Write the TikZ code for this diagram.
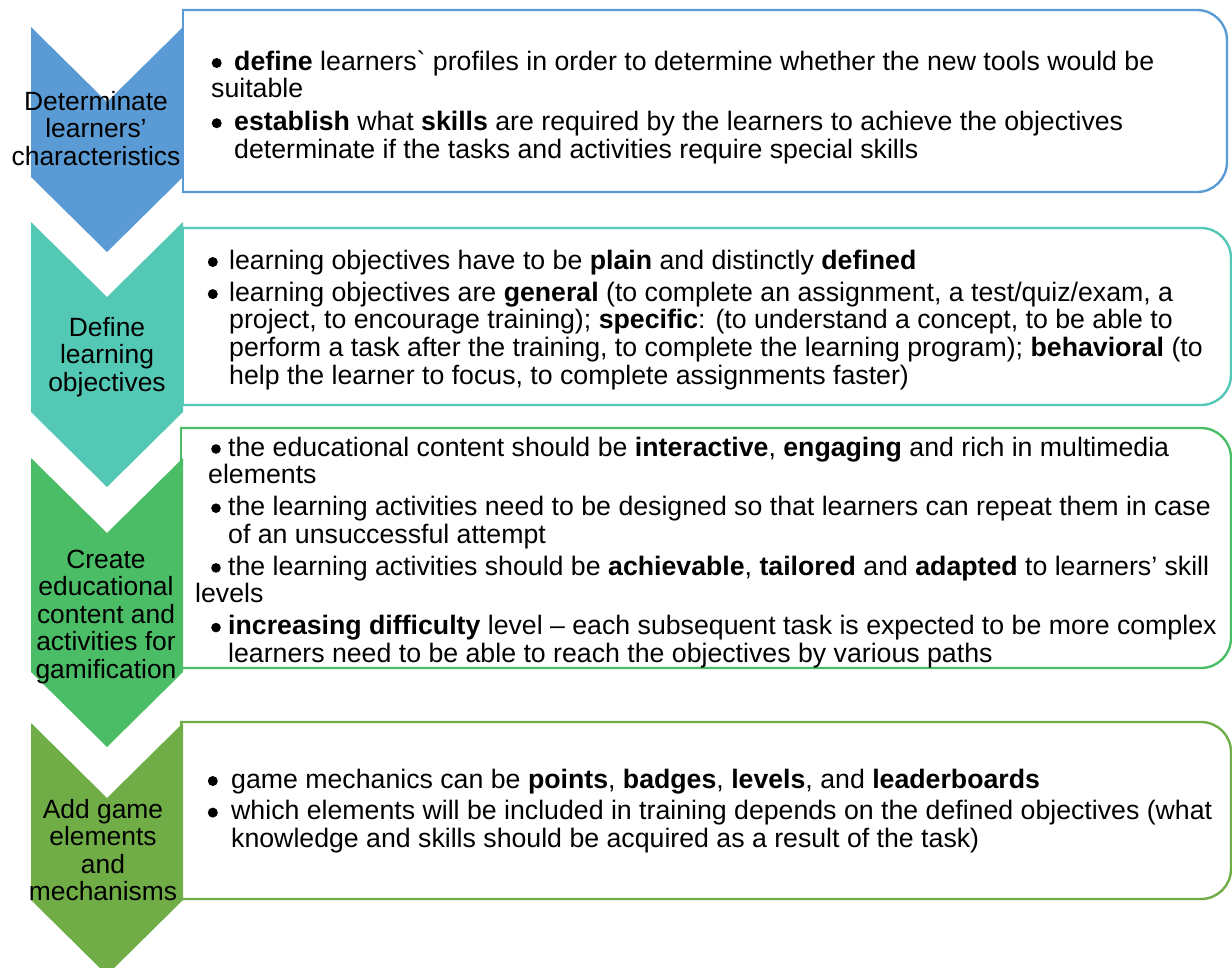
\documentclass[tikz,border=0pt]{standalone}
\usepackage{fontspec}
\setmainfont{Liberation Sans}[Ligatures=TeXOff]

\definecolor{stepA}{HTML}{5B9BD5}
\definecolor{stepB}{HTML}{52C8B5}
\definecolor{stepC}{HTML}{4BBD66}
\definecolor{stepD}{HTML}{70AD47}

% room for a bullet, and the matching hanging indent
\newcommand{\bul}[1][22pt]{\hspace*{#1}}
\newcommand{\ind}[1][22pt]{\hspace*{#1}}
\newcommand{\firstline}{\rule{0pt}{20pt}}

\begin{document}
\begin{tikzpicture}[x=1pt,y=-1pt,
  bodytext/.style={anchor=north west, inner sep=0pt, align=left,
    font=\fontsize{26.7}{27.6}\selectfont},
  steptext/.style={anchor=north, inner sep=0pt, align=center,
    font=\fontsize{26.4}{27.5}\selectfont},
  panel/.style={line width=2.4pt, line cap=rect, rounded corners=30pt},
  dot/.style={fill=black}
]
\useasboundingbox (0,0) rectangle (1232,967);

% chevrons: (colour, top, bottom of the straight sides)
\newcommand{\chevron}[3]{%
  \fill[#1] (31,#2) -- (107,#2+75) -- (183,#2) -- (183,#3) -- (107,#3+75) -- (31,#3) -- cycle;}
\chevron{stepA}{27}{177}
\chevron{stepB}{222}{412}
\chevron{stepC}{458}{672}
\chevron{stepD}{723}{900}

% panels with rounded right corners
\draw[panel, draw=stepA] (183,10) -- (1227,10) -- (1227,192) -- (183,192);
\draw[stepA, line width=2.4pt, line cap=rect] (183,10) -- (183,192);
\draw[panel, draw=stepB] (183,228) -- (1231,228) -- (1231,405) -- (183,405);
\draw[stepB, line width=2.4pt, line cap=rect] (183,228) -- (183,405);
\draw[panel, draw=stepC] (181,428) -- (1231,428) -- (1231,668) -- (181,668);
\draw[stepC, line width=2.4pt, line cap=rect] (181,428) -- (181,668);
\draw[panel, draw=stepD] (181,722) -- (1231,722) -- (1231,899) -- (181,899);
\draw[stepD, line width=2.4pt, line cap=rect] (181,722) -- (181,899);

% step titles
\node[steptext] (s1) at (96,90) {\firstline Determinate\\learners’\\characteristics};
\node[steptext] (s2) at (107,316) {\firstline Define\\learning\\objectives};
\node[steptext] (s3) at (106,548) {\firstline Create\\educational\\content and\\activities for\\gamification};
\node[steptext] (s4) at (103,798) {\firstline Add game\\elements\\and\\mechanisms};

% panel texts (first baselines at 70, 269, 456 and 788)
\node[bodytext] (p1) at (211,50) {\firstline\bul[23pt]\textbf{define} learners` profiles in order to determine whether the new tools would be\\
suitable\\[5pt]
\bul[23pt]\textbf{establish} what \textbf{skills} are required by the learners to achieve the objectives\\
\ind[23pt]determinate if the tasks and activities require special skills};

\node[bodytext] (p2) at (207,249) {\firstline\bul learning objectives have to be \textbf{plain} and distinctly \textbf{defined}\\[4.5pt]
\bul learning objectives are \textbf{general} (to complete an assignment, a test/quiz/exam, a\\
\ind project, to encourage training); \textbf{specific}: (to understand a concept, to be able to\\
\ind perform a task after the training, to complete the learning program); \textbf{behavioral} (to\\
\ind help the learner to focus, to complete assignments faster)};

\node[bodytext] (p3) at (208,436) {\firstline\bul[20pt]the educational content should be \textbf{interactive}, \textbf{engaging} and rich in multimedia\\
elements\\[4pt]
\bul[20pt]the learning activities need to be designed so that learners can repeat them in case\\
\ind[20pt]of an unsuccessful attempt\\[4.5pt]
\bul[20pt]the learning activities should be \textbf{achievable}, \textbf{tailored} and \textbf{adapted} to learners’ skill\\
\hspace*{-13pt}levels\\[4.5pt]
\bul[20pt]\textbf{increasing difficulty} level – each subsequent task is expected to be more complex\\
\ind[20pt]learners need to be able to reach the objectives by various paths};

\node[bodytext] (p4) at (207,768) {\firstline\bul[24pt]game mechanics can be \textbf{points}, \textbf{badges}, \textbf{levels}, and \textbf{leaderboards}\\[4pt]
\bul[24pt]which elements will be included in training depends on the defined objectives (what\\
\ind[24pt]knowledge and skills should be acquired as a result of the task)};

% bullets, 7pt above each bulleted baseline
\foreach \y in {63,123.2} \fill[dot] (216.7,\y) circle[radius=5pt];
\foreach \y in {262,294.1} \fill[dot] (212.8,\y) circle[radius=5pt];
\foreach \y in {449,508.2,567.9,627.6} \fill[dot] (216,\y) circle[radius=4.8pt];
\foreach \y in {781,812.6} \fill[dot] (212.8,\y) circle[radius=5pt];
\end{tikzpicture}
\end{document}
